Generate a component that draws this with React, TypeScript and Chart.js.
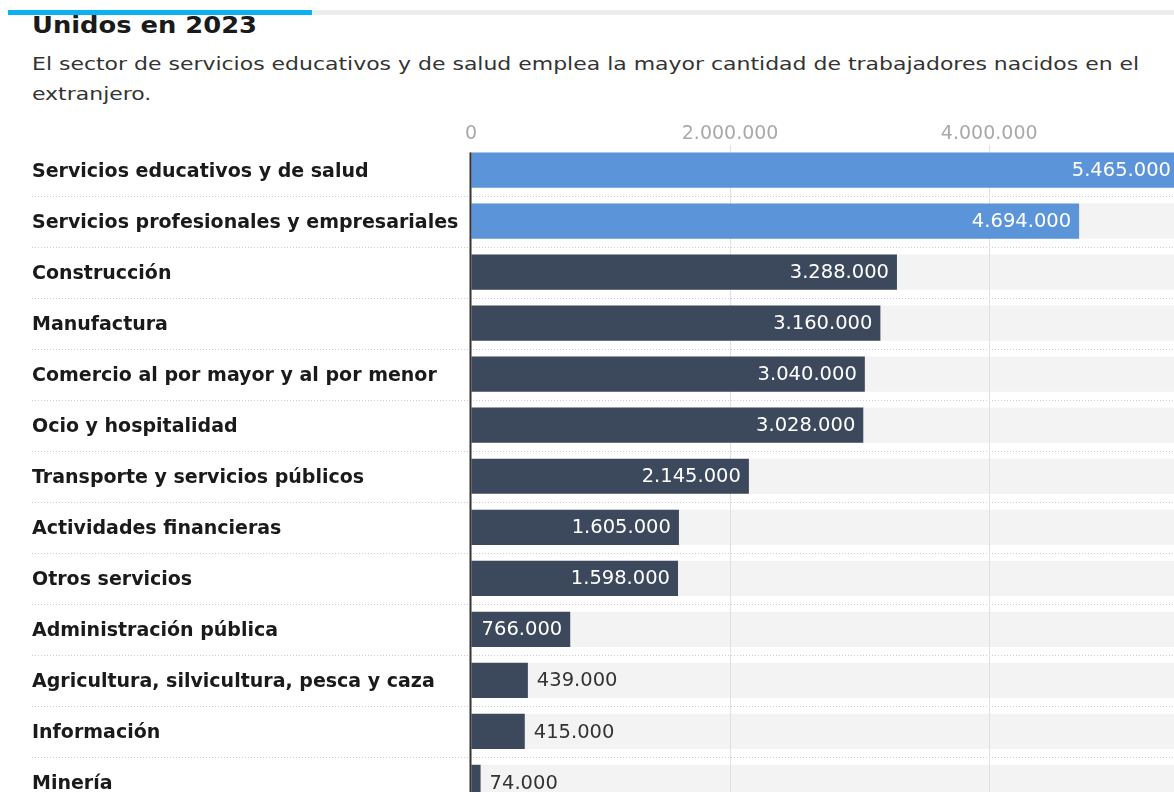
import React, { useEffect, useRef } from "react";
import { Chart, registerables } from "chart.js";

Chart.register(...registerables);

// ---- data ----
const categories: string[] = [
  "Servicios educativos y de salud",
  "Servicios profesionales y empresariales",
  "Construcción",
  "Manufactura",
  "Comercio al por mayor y al por menor",
  "Ocio y hospitalidad",
  "Transporte y servicios públicos",
  "Actividades financieras",
  "Otros servicios",
  "Administración pública",
  "Agricultura, silvicultura, pesca y caza",
  "Información",
  "Minería",
];
const workers: number[] = [
  5465000, 4694000, 3288000, 3160000, 3040000, 3028000, 2145000, 1605000,
  1598000, 766000, 439000, 415000, 74000,
];
const highlighted: boolean[] = [
  true, true, false, false, false, false, false, false, false, false, false,
  false, false,
];
const axisTicks: number[] = [0, 2000000, 4000000];
const axisMax = 5465000;
const titleText = "Unidos en 2023";
const subtitleLines: string[] = [
  "El sector de servicios educativos y de salud emplea la mayor cantidad de trabajadores nacidos en el",
  "extranjero.",
];

// ---- styles ----
const BLUE = "#5b94d9";
const NAVY = "#3c485c";
const TRACK = "#f3f3f3";
const FONT = "'DejaVu Sans', 'Liberation Sans', sans-serif";
const LABEL_LEFT = 32;

const fmt = (v: number) =>
  String(Math.round(v)).replace(/\B(?=(\d{3})+(?!\d))/g, ".");

const decorPlugin = {
  id: "decor",
  beforeDraw(chart: any) {
    const { ctx, chartArea, width } = chart;
    const meta = chart.getDatasetMeta(0);
    const ys = chart.scales.y;
    ctx.save();
    ctx.fillStyle = TRACK;
    meta.data.forEach((bar: any) => {
      const h = bar.height;
      ctx.fillRect(chartArea.left, bar.y - h / 2, width - chartArea.left, h);
    });
    ctx.strokeStyle = "#cdcdcd";
    ctx.lineWidth = 1;
    ctx.setLineDash([1, 2]);
    for (let i = 0; i < categories.length - 1; i++) {
      const yy =
        Math.round((ys.getPixelForValue(i) + ys.getPixelForValue(i + 1)) / 2) +
        0.5;
      ctx.beginPath();
      ctx.moveTo(LABEL_LEFT, yy);
      ctx.lineTo(width, yy);
      ctx.stroke();
    }
    ctx.restore();
  },
  afterDatasetsDraw(chart: any) {
    const { ctx, chartArea, height } = chart;
    const meta = chart.getDatasetMeta(0);
    ctx.save();
    // value labels
    ctx.font = `19.5px ${FONT}`;
    ctx.textBaseline = "middle";
    meta.data.forEach((bar: any, i: number) => {
      const txt = fmt(workers[i]);
      const w = ctx.measureText(txt).width;
      const barW = bar.x - bar.base;
      if (w + 16 <= barW) {
        ctx.fillStyle = "#ffffff";
        ctx.textAlign = "right";
        ctx.fillText(txt, bar.x - 8, bar.y + 1);
      } else {
        ctx.fillStyle = "#333333";
        ctx.textAlign = "left";
        ctx.fillText(txt, bar.x + 9, bar.y + 1);
      }
    });
    // vertical axis line
    const first: any = meta.data[0];
    const top = first.y - first.height / 2;
    ctx.fillStyle = "#333333";
    ctx.fillRect(chartArea.left - 1.5, top, 2, height - top);
    ctx.restore();
  },
};

function BarChart() {
  const ref = useRef<HTMLCanvasElement | null>(null);
  useEffect(() => {
    if (!ref.current) return;
    const chart = new Chart(ref.current, {
      type: "bar",
      data: {
        labels: categories,
        datasets: [
          {
            data: workers,
            backgroundColor: workers.map((_, i) => (highlighted[i] ? BLUE : NAVY)),
            borderWidth: 0,
            barPercentage: 0.69,
            categoryPercentage: 1,
          },
        ],
      },
      options: {
        indexAxis: "y",
        responsive: false,
        animation: false,
        events: [],
        layout: { padding: { left: LABEL_LEFT, right: 11, top: 0, bottom: 12 } },
        plugins: {
          legend: { display: false },
          tooltip: { enabled: false },
          title: { display: false },
        },
        scales: {
          x: {
            position: "top",
            min: 0,
            max: axisMax,
            afterBuildTicks: (s: any) => {
              s.ticks = axisTicks.map((v) => ({ value: v }));
            },
            afterFit: (s: any) => {
              s.height = 44.5;
            },
            grid: {
              color: (c: any) =>
                c.tick && c.tick.value === 0 ? "rgba(0,0,0,0)" : "#e0e0e0",
              lineWidth: 1,
              drawTicks: false,
            },
            border: { display: false },
            ticks: {
              color: "#a9a9a9",
              font: { family: FONT, size: 19 },
              padding: -1,
              maxRotation: 0,
              autoSkip: false,
              callback: (v: any) => fmt(Number(v)),
            },
          },
          y: {
            afterFit: (s: any) => {
              s.width = 471 - LABEL_LEFT;
            },
            grid: { display: false },
            border: { display: false },
            ticks: {
              crossAlign: "far",
              padding: 0,
              labelOffset: 2,
              color: "#1a1a1a",
              autoSkip: false,
              font: { family: FONT, size: 19, weight: "bold" },
            },
          },
        },
      } as any,
      plugins: [decorPlugin],
    });
    return () => chart.destroy();
  }, []);
  return (
    <canvas
      ref={ref}
      width={1190}
      height={720}
      style={{ position: "absolute", left: 0, top: 100, width: 1190, height: 720 }}
    />
  );
}

export default function App() {
  return (
    <div
      style={{
        position: "fixed",
        left: 0,
        top: 0,
        width: 1174,
        height: 792,
        overflow: "hidden",
        background: "#ffffff",
      }}
    >
      <div style={{ position: "absolute", left: 8, top: 10, width: 304, height: 5, background: "#0bb1f0" }} />
      <div style={{ position: "absolute", left: 312, top: 10, width: 900, height: 5, background: "#ececec" }} />
      <div
        style={{
          position: "absolute",
          left: 32,
          top: 14,
          fontFamily: FONT,
          fontWeight: "bold",
          fontSize: 23,
          lineHeight: "23px",
          color: "#1a1a1a",
          whiteSpace: "nowrap",
          transform: "scaleX(1.12)",
          transformOrigin: "left top",
        }}
      >
        {titleText}
      </div>
      <div
        style={{
          position: "absolute",
          left: 32,
          top: 48.7,
          fontFamily: FONT,
          fontSize: 18,
          lineHeight: "30px",
          color: "#333333",
          whiteSpace: "nowrap",
          transform: "scaleX(1.22)",
          transformOrigin: "left top",
        }}
      >
        {subtitleLines.map((l, i) => (
          <div key={i}>{l}</div>
        ))}
      </div>
      <BarChart />
    </div>
  );
}
